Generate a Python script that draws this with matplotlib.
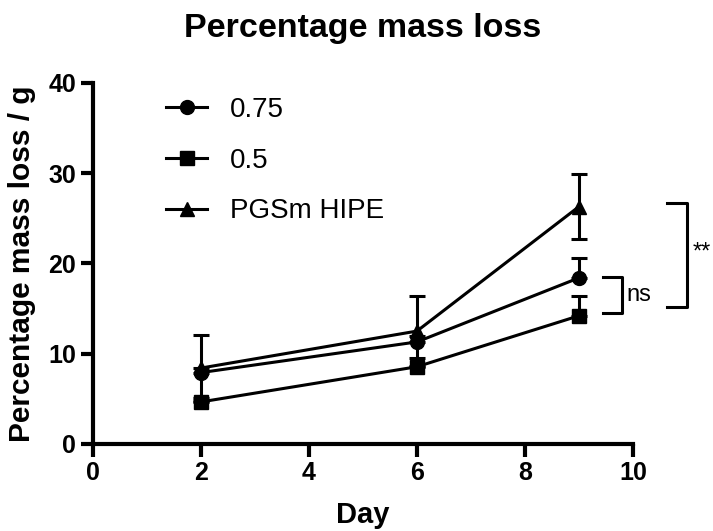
import matplotlib.pyplot as plt
from matplotlib.lines import Line2D

plt.rcParams['font.family'] = ['Liberation Sans', 'DejaVu Sans']

days = [2, 6, 9]
labels = ['0.75', '0.5', 'PGSm HIPE']
markers = ['o', 's', '^']
means = [
    [7.9, 11.3, 18.4],
    [4.65, 8.55, 14.2],
    [8.4, 12.5, 26.3],
]
err_up = [
    [0.5, 0.6, 2.2],
    [0.4, 1.0, 2.2],
    [3.7, 3.9, 3.6],
]
err_down = [
    [0.0, 0.0, 0.0],
    [0.0, 0.0, 0.0],
    [3.7, 3.9, 3.6],
]

fig = plt.figure(figsize=(7.13, 5.31), dpi=100)
ax = fig.add_axes([0.130, 0.164, 0.758, 0.680])

for m, lo, hi, mk in zip(means, err_down, err_up, markers):
    ax.errorbar(days, m, yerr=[lo, hi], color='black', lw=2.2, marker=mk, ms=10,
                capsize=6, capthick=2.2, elinewidth=2.2, clip_on=False)

ax.set_xlim(0, 10)
ax.set_ylim(0, 40)
ax.set_xticks([0, 2, 4, 6, 8, 10])
ax.set_yticks([0, 10, 20, 30, 40])
for s in ['top', 'right']:
    ax.spines[s].set_visible(False)
for s in ['left', 'bottom']:
    ax.spines[s].set_linewidth(3)
ax.tick_params(width=3, length=9, labelsize=18, pad=3)
for t in ax.get_xticklabels() + ax.get_yticklabels():
    t.set_fontweight('bold')

ax.set_xlabel('Day', fontsize=21, fontweight='bold', va='center')
ax.xaxis.set_label_coords(0.5, -0.197)
ax.set_ylabel('Percentage mass loss / g', fontsize=21.5, fontweight='bold', va='center')
ax.yaxis.set_label_coords(-0.13, 0.5)
fig.text(0.509, 0.947, 'Percentage mass loss', fontsize=24.5, fontweight='bold',
         ha='center', va='center')

handles = [Line2D([], [], color='black', lw=2.2, marker=mk, ms=10) for mk in markers]
ax.legend(handles, labels, loc='upper left', bbox_to_anchor=(0.089, 1.03), frameon=False,
          fontsize=20, handlelength=1.5, labelspacing=0.89, handletextpad=0.8)

# significance brackets
bk = dict(color='black', lw=2.2, clip_on=False)
ax.plot([9.45, 9.8, 9.8, 9.45], [18.5, 18.5, 14.5, 14.5], **bk)
ax.text(9.88, 16.5, 'ns', fontsize=17, va='center', ha='left')
ax.plot([10.63, 11.0, 11.0, 10.63], [26.7, 26.7, 15.2, 15.2], **bk)
ax.text(11.1, 21.2, '**', fontsize=17, va='center', ha='left')

fig.savefig('out.png', dpi=100)
